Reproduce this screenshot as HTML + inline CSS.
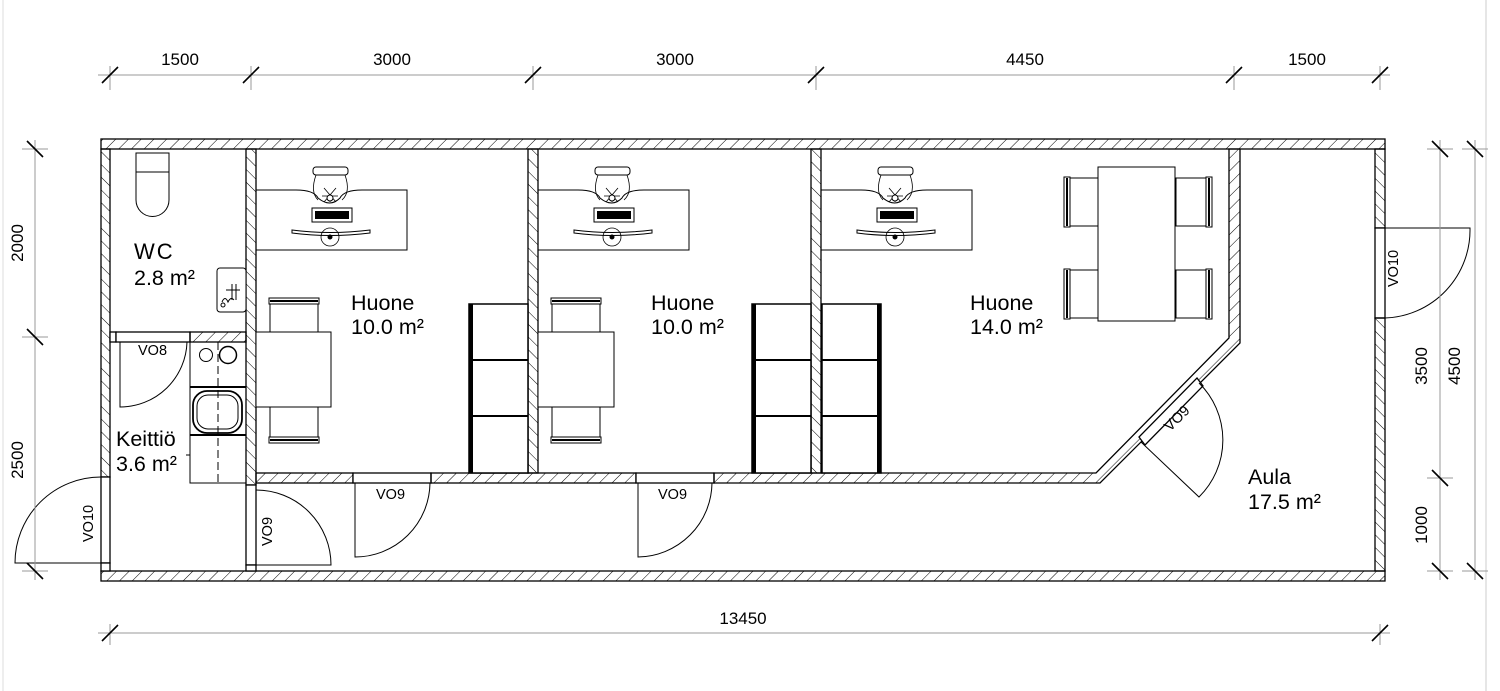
<!DOCTYPE html>
<html><head><meta charset="utf-8"><style>
html,body{margin:0;padding:0;background:#fff}
svg{display:block}
text{font-family:"Liberation Sans",Arial,sans-serif;fill:#000}
</style></head><body>
<svg width="1500" height="691" viewBox="0 0 1500 691" xmlns="http://www.w3.org/2000/svg">
<defs>
<pattern id="h1" patternUnits="userSpaceOnUse" width="9" height="9" patternTransform="rotate(45)">
<line x1="0" y1="0" x2="0" y2="9" stroke="#000" stroke-width="1"/></pattern>
<pattern id="h2" patternUnits="userSpaceOnUse" width="9" height="9" patternTransform="rotate(-45)">
<line x1="0" y1="0" x2="0" y2="9" stroke="#000" stroke-width="1"/></pattern>
<g id="desk">
<path d="M0,40 L0,-2 L40,-2 Q58,-2 62,6 Q74,16 84,6 Q88,-2 106,-2 L151,-2 L151,58 L0,58" fill="none" stroke="#000" stroke-width="1"/>
<rect x="57" y="-25" width="35" height="8" rx="3" fill="#fff" stroke="#000"/>
<path d="M60,-17 Q54,0 62,8 M89,-17 Q95,0 86,8" fill="none" stroke="#000" stroke-width="0.8"/>
<path d="M74,2 L74,10 M66,4 L82,4 M68,-4 L80,10 M80,-4 L68,10" stroke="#000" stroke-width="0.8"/>
<circle cx="74" cy="6" r="3" fill="#fff" stroke="#000"/>
<rect x="56" y="16" width="40" height="14" fill="#fff" stroke="#000"/>
<rect x="59" y="19" width="34" height="8" fill="#000"/>
<path d="M36,38 Q74,43 114,38 L114,41 Q74,46 36,41 Z" fill="#fff" stroke="#000"/>
<circle cx="74" cy="45" r="9" fill="none" stroke="#000" stroke-width="0.8"/>
<circle cx="74" cy="45" r="2.5" fill="#000"/>
</g>
<g id="chairH">
<rect x="0" y="0" width="48" height="34" fill="#fff" stroke="#000"/>
<rect x="-1" y="-2" width="50" height="6" fill="#fff" stroke="#000"/>
<line x1="0" y1="1" x2="48" y2="1" stroke="#000" stroke-width="2"/>
</g>
<g id="shelf">
<rect x="0" y="0" width="59" height="169" fill="#fff" stroke="#000" stroke-width="1.5"/>
<rect x="0" y="0" width="4" height="169" fill="#000"/>
<line x1="0" y1="56" x2="59" y2="56" stroke="#000" stroke-width="2"/>
<line x1="0" y1="112" x2="59" y2="112" stroke="#000" stroke-width="2"/>
</g>
</defs>

<line x1="3" y1="0" x2="3" y2="691" stroke="#ddd"/>
<line x1="1486" y1="0" x2="1486" y2="691" stroke="#ccc"/>

<g stroke="#000" stroke-width="1.3">
<rect x="101" y="139" width="1284" height="10" fill="url(#h1)"/>
<rect x="101" y="571" width="1284" height="10" fill="url(#h1)"/>
<rect x="101" y="149" width="9" height="328" fill="url(#h2)"/>
<rect x="101" y="477" width="9" height="86" fill="#fff"/>
<rect x="101" y="563" width="9" height="8" fill="#fff"/>
<rect x="1375" y="149" width="10" height="79" fill="url(#h2)"/>
<rect x="1375" y="228" width="10" height="90" fill="#fff"/>
<rect x="1375" y="318" width="10" height="253" fill="url(#h2)"/>
<rect x="246" y="149" width="10" height="336" fill="url(#h2)"/>
<rect x="246" y="485" width="10" height="80" fill="#fff"/>
<rect x="246" y="565" width="10" height="6" fill="#fff"/>
<rect x="110" y="332" width="6" height="10" fill="#fff"/>
<rect x="116" y="332" width="74" height="10" fill="#fff"/>
<rect x="190" y="332" width="56" height="10" fill="url(#h1)"/>
<rect x="528" y="149" width="10" height="324" fill="url(#h2)"/>
<rect x="811" y="149" width="10" height="324" fill="url(#h2)"/>
<rect x="256" y="473" width="97" height="10" fill="url(#h1)"/>
<rect x="353" y="473" width="78" height="10" fill="#fff"/>
<rect x="431" y="473" width="205" height="10" fill="url(#h1)"/>
<rect x="636" y="473" width="78" height="10" fill="#fff"/>
<path d="M714,473 L1096,473 L1229,338 L1229,149 L1240,149 L1240,343 L1100,483 L714,483 Z" fill="url(#h1)"/>
</g>
<polygon points="1139,437 1197,378 1203,386 1145,445" fill="#fff" stroke="#000" stroke-width="1.3"/>

<g fill="none" stroke="#000" stroke-width="1">
<path d="M101,563 L15,563 A86,86 0 0 1 101,477"/>
<path d="M1385,228 L1470,228 A88,88 0 0 1 1385,318"/>
<path d="M256,565 L331,565 A75,75 0 0 0 256,490"/>
<path d="M355,483 L355,557 A75,75 0 0 0 430,483"/>
<path d="M638,483 L638,557 A75,75 0 0 0 712,483"/>
<path d="M120,342 L120,407 A67,67 0 0 0 187,342"/>
<path d="M1141,442 L1199,497 A80,80 0 0 0 1199,383"/>
</g>

<g fill="#fff" stroke="#000" stroke-width="1">
<rect x="136" y="153" width="33" height="19"/>
<path d="M136,172 L169,172 L169,200 A16.5,16.5 0 0 1 136,200 Z"/>
<rect x="217" y="268" width="29" height="44" rx="3"/>
<path d="M222,302 Q225,295 228,302 Q231,296 234,300 M226,290 L240,290 M232,284 L232,300 M236,284 L236,300" fill="none"/>
<circle cx="223" cy="305" r="2" fill="none"/>
</g>
<g fill="none" stroke="#000" stroke-width="1">
<rect x="190" y="342" width="56" height="141"/>
<circle cx="206" cy="355" r="6.5"/>
<circle cx="228" cy="355" r="8.5" stroke-width="1.5"/>
<line x1="190" y1="387" x2="246" y2="387" stroke-width="2"/>
<line x1="190" y1="435" x2="246" y2="435" stroke-width="2"/>
<rect x="193" y="391" width="49" height="42" rx="14" stroke-width="1.8"/>
<rect x="197" y="395" width="41" height="34" rx="11"/>
<line x1="218" y1="342" x2="218" y2="483" stroke-dasharray="8,4"/>
<line x1="190" y1="455" x2="186" y2="455"/>
</g>

<use href="#desk" x="256" y="192"/>
<use href="#desk" x="538" y="192"/>
<use href="#desk" x="821" y="192"/>

<g>
<use href="#chairH" x="270" y="300"/>
<use href="#chairH" transform="translate(270,441) scale(1,-1)"/>
<rect x="256" y="332" width="75" height="75" fill="#fff" stroke="#000"/>
<use href="#chairH" x="552" y="300"/>
<use href="#chairH" transform="translate(552,441) scale(1,-1)"/>
<rect x="538" y="332" width="76" height="75" fill="#fff" stroke="#000"/>
</g>

<g>
<use href="#chairH" transform="translate(1066,226) rotate(-90)"/>
<use href="#chairH" transform="translate(1066,318) rotate(-90)"/>
<use href="#chairH" transform="translate(1210,178) rotate(90)"/>
<use href="#chairH" transform="translate(1210,270) rotate(90)"/>
<rect x="1098" y="167" width="77" height="154" fill="#fff" stroke="#000"/>
</g>

<use href="#shelf" x="469" y="304"/>
<use href="#shelf" x="752" y="304"/>
<use href="#shelf" transform="translate(881,304) scale(-1,1)"/>

<g font-size="21.5">
<text x="134" y="259" font-size="22" letter-spacing="2">WC</text>
<text x="134" y="285">2.8 m²</text>
<text x="116" y="446">Keittiö</text>
<text x="116" y="471">3.6 m²</text>
<text x="351" y="310">Huone</text>
<text x="351" y="334">10.0 m²</text>
<text x="651" y="310">Huone</text>
<text x="651" y="334">10.0 m²</text>
<text x="970" y="310">Huone</text>
<text x="970" y="334">14.0 m²</text>
<text x="1248" y="484">Aula</text>
<text x="1248" y="509">17.5 m²</text>
</g>
<g font-size="14.5">
<text x="138" y="355">VO8</text>
<text x="376" y="499">VO9</text>
<text x="658" y="499">VO9</text>
<text transform="translate(272,546) rotate(-90)">VO9</text>
<text transform="translate(93,542) rotate(-90)">VO10</text>
<text transform="translate(1398,287) rotate(-90)">VO10</text>
<text transform="translate(1170,432) rotate(-45)">VO9</text>
</g>

<g stroke="#999" stroke-width="1" fill="none">
<line x1="98" y1="75" x2="1390" y2="75"/>
<line x1="98" y1="633" x2="1390" y2="633"/>
<line x1="35" y1="140" x2="35" y2="580"/>
<line x1="1440" y1="140" x2="1440" y2="580"/>
<line x1="1475" y1="140" x2="1475" y2="580"/>
<path d="M110,66 V90 M251,66 V90 M533,66 V90 M816,66 V90 M1234,66 V90 M1380,66 V90 M110,624 V645 M1380,624 V645"/>
<path d="M22,149 H48 M22,337 H48 M22,571 H48 M1427,149 H1453 M1427,478 H1453 M1427,571 H1453 M1462,149 H1488 M1462,571 H1488"/>
</g>
<g stroke="#000" stroke-width="1.6">
<path d="M102,83 L118,67 M243,83 L259,67 M525,83 L541,67 M808,83 L824,67 M1226,83 L1242,67 M1372,83 L1388,67 M102,641 L118,625 M1372,641 L1388,625"/>
<path d="M27,141 L43,157 M27,329 L43,345 M27,563 L43,579 M1432,141 L1448,157 M1432,470 L1448,486 M1432,563 L1448,579 M1467,141 L1483,157 M1467,563 L1483,579"/>
</g>
<g font-size="17">
<text x="180" y="65" text-anchor="middle">1500</text>
<text x="392" y="65" text-anchor="middle">3000</text>
<text x="675" y="65" text-anchor="middle">3000</text>
<text x="1025" y="65" text-anchor="middle">4450</text>
<text x="1307" y="65" text-anchor="middle">1500</text>
<text x="743" y="624" text-anchor="middle">13450</text>
<text transform="translate(23,243) rotate(-90)" text-anchor="middle">2000</text>
<text transform="translate(23,460) rotate(-90)" text-anchor="middle">2500</text>
<text transform="translate(1427,366) rotate(-90)" text-anchor="middle">3500</text>
<text transform="translate(1427,525) rotate(-90)" text-anchor="middle">1000</text>
<text transform="translate(1460,366) rotate(-90)" text-anchor="middle">4500</text>
</g>
</svg>
</body></html>
